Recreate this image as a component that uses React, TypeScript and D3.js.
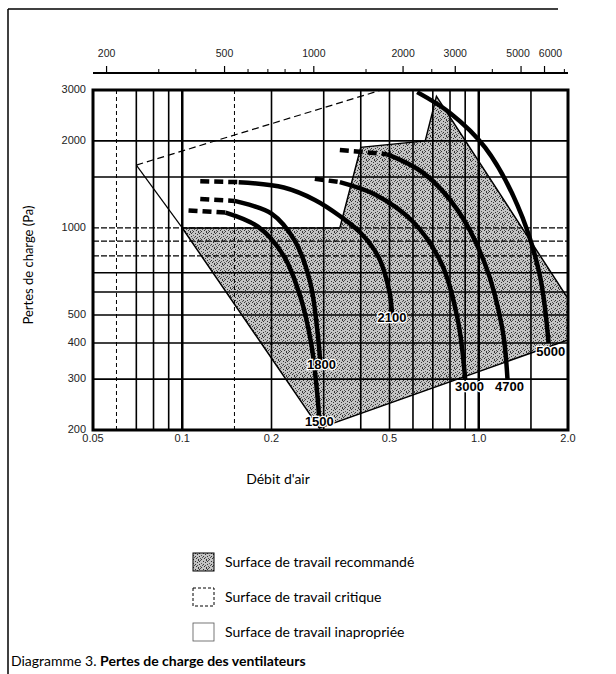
import React from "react";
import * as d3 from "d3";

const W = 616;
const H = 674;

// axes
const flowDomain = [0.05, 2.0];
const pressureDomain = [200, 3000];
const bottomTicks = [0.05, 0.1, 0.2, 0.5, 1.0, 2.0];
const bottomTickLabels = ["0.05", "0.1", "0.2", "0.5", "1.0", "2.0"];
const topTicks = [200, 500, 1000, 2000, 3000, 5000, 6000];
const topMinorTicks = [300, 400, 600, 700, 800, 900, 1500, 2500, 4000, 7000];
const yTicks = [200, 300, 400, 500, 1000, 2000, 3000];
const vGridSolid = [0.07, 0.08, 0.09, 0.1, 0.2, 0.3, 0.4, 0.5, 0.6, 0.7, 0.8, 0.9, 1.0, 1.5];
const vGridDashed = [0.06, 0.15];
const hGridSolid = [300, 400, 500, 600, 700, 1500, 2000];
const hGridDashed = [800, 900, 1000];

// areas (flow m3/s, pressure Pa)
const criticalDashedEdge: [number, number][] = [[0.07, 1650], [0.47, 3000]];
const criticalLowerEdge: [number, number][] = [[0.07, 1650], [0.1, 1000]];
const recommendedArea: [number, number][] = [
  [0.1, 1000], [0.34, 1000], [0.4, 1900], [0.66, 2000], [0.72, 2850],
  [2.0, 570], [2.0, 410], [0.29, 203],
];

// fan curves
const fanDashed: [number, number][][] = [
  [[0.105, 1150], [0.14, 1130]],
  [[0.115, 1260], [0.15, 1240]],
  [[0.115, 1450], [0.155, 1440]],
  [[0.28, 1480], [0.34, 1440]],
  [[0.34, 1860], [0.49, 1800]],
];
const fanSolid: [number, number][][] = [
  [[0.14, 1130], [0.18, 1010], [0.22, 800], [0.25, 580], [0.272, 400], [0.285, 270], [0.29, 215]],
  [[0.15, 1240], [0.2, 1120], [0.24, 900], [0.27, 650], [0.285, 450], [0.292, 345]],
  [[0.155, 1440], [0.22, 1380], [0.28, 1250], [0.34, 1100], [0.4, 960], [0.46, 790], [0.5, 600], [0.51, 500]],
  [[0.34, 1440], [0.45, 1300], [0.6, 1050], [0.75, 750], [0.85, 480], [0.9, 300]],
  [[0.49, 1800], [0.65, 1550], [0.85, 1150], [1.05, 750], [1.2, 450], [1.25, 300]],
  [[0.62, 2950], [0.8, 2500], [1.05, 1900], [1.35, 1200], [1.6, 700], [1.72, 400]],
];
const fanLabels = ["1500", "1800", "2100", "3000", "4700", "5000"];
const fanLabelPos: [number, number][] = [[0.29, 212], [0.295, 333], [0.51, 485], [0.93, 280], [1.27, 280], [1.75, 372]];

const legendLabels = ["Surface de travail recommandé", "Surface de travail critique", "Surface de travail inapropriée"];

// stipple texture dots (pattern cell)
const stippleDots: [number, number][] = [
  [0, 0], [3, 1], [6, 0], [1, 3], [5, 2], [7, 4], [2, 5], [4, 6], [6, 7], [0, 6], [3, 4], [7, 1], [5, 5], [1, 7],
];

export default function App() {
  const x = d3.scaleLog().domain(flowDomain).range([93, 568]);
  const xTop = d3.scaleLog().domain([flowDomain[0] * 3600, flowDomain[1] * 3600]).range([93, 568]);
  const y = d3.scaleLog().domain(pressureDomain).range([430, 90]);
  const line = d3.line<[number, number]>().x((d) => x(d[0])).y((d) => y(d[1]));
  const smooth = d3.line<[number, number]>().x((d) => x(d[0])).y((d) => y(d[1])).curve(d3.curveCatmullRom);
  const x0 = x.range()[0], x1 = x.range()[1], y0 = y.range()[0], y1 = y.range()[1];
  const tickFont = "'Liberation Sans', Arial, sans-serif";
  const textFont = "Lato, 'Open Sans', sans-serif";

  return (
    <svg width={W} height={H} style={{ position: "absolute", left: 0, top: 0, background: "#fff" }}>
      <defs>
        <pattern id="stip" width="8" height="8" patternUnits="userSpaceOnUse">
          <rect width="8" height="8" fill="#c4c4c4" />
          {stippleDots.map((d, i) => (
            <rect key={i} x={d[0]} y={d[1]} width="1" height="1" fill={i % 3 === 0 ? "#555" : "#333"} />
          ))}
        </pattern>
        <clipPath id="plot"><rect x={x0} y={y1} width={x1 - x0} height={y0 - y1} /></clipPath>
      </defs>
      <rect width={W} height={H} fill="#fff" />
      {/* page frame */}
      <line x1={8} y1={9} x2={8} y2={H} stroke="#000" strokeWidth={1.5} />
      <line x1={8} y1={9} x2={558} y2={9} stroke="#000" strokeWidth={1.5} />

      {/* recommended area */}
      <path d={line(recommendedArea) + "Z"} fill="url(#stip)" stroke="#000" strokeWidth={1.5} clipPath="url(#plot)" />

      {/* grid */}
      {vGridSolid.map((v) => (
        <line key={"vg" + v} x1={x(v)} x2={x(v)} y1={y1} y2={y0} stroke="#000" strokeWidth={v === 0.1 || v === 1.0 ? 2.5 : 1.6} />
      ))}
      {vGridDashed.map((v) => (
        <line key={"vd" + v} x1={x(v)} x2={x(v)} y1={y1} y2={y0} stroke="#000" strokeWidth={1} strokeDasharray="4 3" />
      ))}
      {hGridSolid.map((v) => (
        <line key={"hg" + v} x1={x0} x2={x1} y1={y(v)} y2={y(v)} stroke="#000" strokeWidth={1.6} />
      ))}
      {hGridDashed.map((v) => (
        <line key={"hd" + v} x1={x0} x2={x1} y1={y(v)} y2={y(v)} stroke="#000" strokeWidth={1.3} strokeDasharray="6 2" />
      ))}

      {/* critical area edges */}
      <path d={line(criticalDashedEdge)!} fill="none" stroke="#000" strokeWidth={1.2} strokeDasharray="7 4" />
      <path d={line(criticalLowerEdge)!} fill="none" stroke="#000" strokeWidth={1.2} />

      {/* fan curves */}
      {fanDashed.map((c, i) => (
        <path key={"fd" + i} d={line(c)!} fill="none" stroke="#000" strokeWidth={4.5} strokeDasharray="9 5" />
      ))}
      {fanSolid.map((c, i) => (
        <path key={"fs" + i} d={smooth(c)!} fill="none" stroke="#000" strokeWidth={4.5} clipPath="url(#plot)" />
      ))}
      {fanLabels.map((t, i) => (
        <text key={"fl" + i} x={x(fanLabelPos[i][0])} y={y(fanLabelPos[i][1])} textAnchor="middle" dominantBaseline="middle"
          fontFamily={tickFont} fontWeight="bold" fontSize={13} fill="#000" stroke="#fff" strokeWidth={2.5} paintOrder="stroke">{t}</text>
      ))}

      {/* plot frame */}
      <rect x={x0} y={y1} width={x1 - x0} height={y0 - y1} fill="none" stroke="#000" strokeWidth={3} />

      {/* y ticks */}
      {yTicks.map((v) => (
        <text key={"yt" + v} x={x0 - 7} y={y(v)} textAnchor="end" dominantBaseline="middle" fontFamily={tickFont} fontSize={11} fill="#222">{v}</text>
      ))}
      {/* bottom ticks */}
      {bottomTicks.map((v, i) => (
        <text key={"bt" + v} x={x(v)} y={y0 + 9} textAnchor="middle" dominantBaseline="middle" fontFamily={tickFont} fontSize={11} fill="#222">{bottomTickLabels[i]}</text>
      ))}
      {/* top axis */}
      <line x1={x0} x2={x1} y1={73} y2={73} stroke="#000" strokeWidth={2} />
      {topTicks.map((v) => (
        <g key={"tt" + v}>
          <line x1={xTop(v)} x2={xTop(v)} y1={73} y2={66} stroke="#000" strokeWidth={1.2} />
          <text x={xTop(v) + (v === 6000 ? 6 : v === 5000 ? -3 : 0)} y={54} textAnchor="middle" dominantBaseline="middle" fontFamily={tickFont} fontSize={10.5} fill="#222">{v}</text>
        </g>
      ))}
      {topMinorTicks.map((v) => (
        <line key={"tm" + v} x1={xTop(v)} x2={xTop(v)} y1={73} y2={69} stroke="#000" strokeWidth={1} />
      ))}

      {/* axis titles */}
      <text transform={`translate(33,${(y0 + y1) / 2 + 5}) rotate(-90)`} textAnchor="middle" fontFamily={textFont} fontSize={13} fill="#000">Pertes de charge (Pa)</text>
      <text x={278} y={484} textAnchor="middle" fontFamily={textFont} fontSize={14} fill="#000">Débit d'air</text>

      {/* legend */}
      {legendLabels.map((t, i) => {
        const ly = 553 + i * 35;
        return (
          <g key={"lg" + i}>
            {i === 0 && <rect x={193} y={ly} width={21} height={18} fill="url(#stip)" stroke="#000" strokeWidth={1} />}
            {i === 1 && <rect x={193} y={ly} width={21} height={18} fill="none" stroke="#000" strokeWidth={1} strokeDasharray="3 2" />}
            {i === 2 && <rect x={193} y={ly} width={21} height={18} fill="none" stroke="#555" strokeWidth={0.8} />}
            <text x={225} y={ly + 14} fontFamily={textFont} fontSize={14} fill="#000">{t}</text>
          </g>
        );
      })}

      {/* caption */}
      <text x={11} y={666} fontFamily={textFont} fontSize={14} fill="#000">
        Diagramme 3. <tspan fontWeight="bold">Pertes de charge des ventilateurs</tspan>
      </text>
    </svg>
  );
}
